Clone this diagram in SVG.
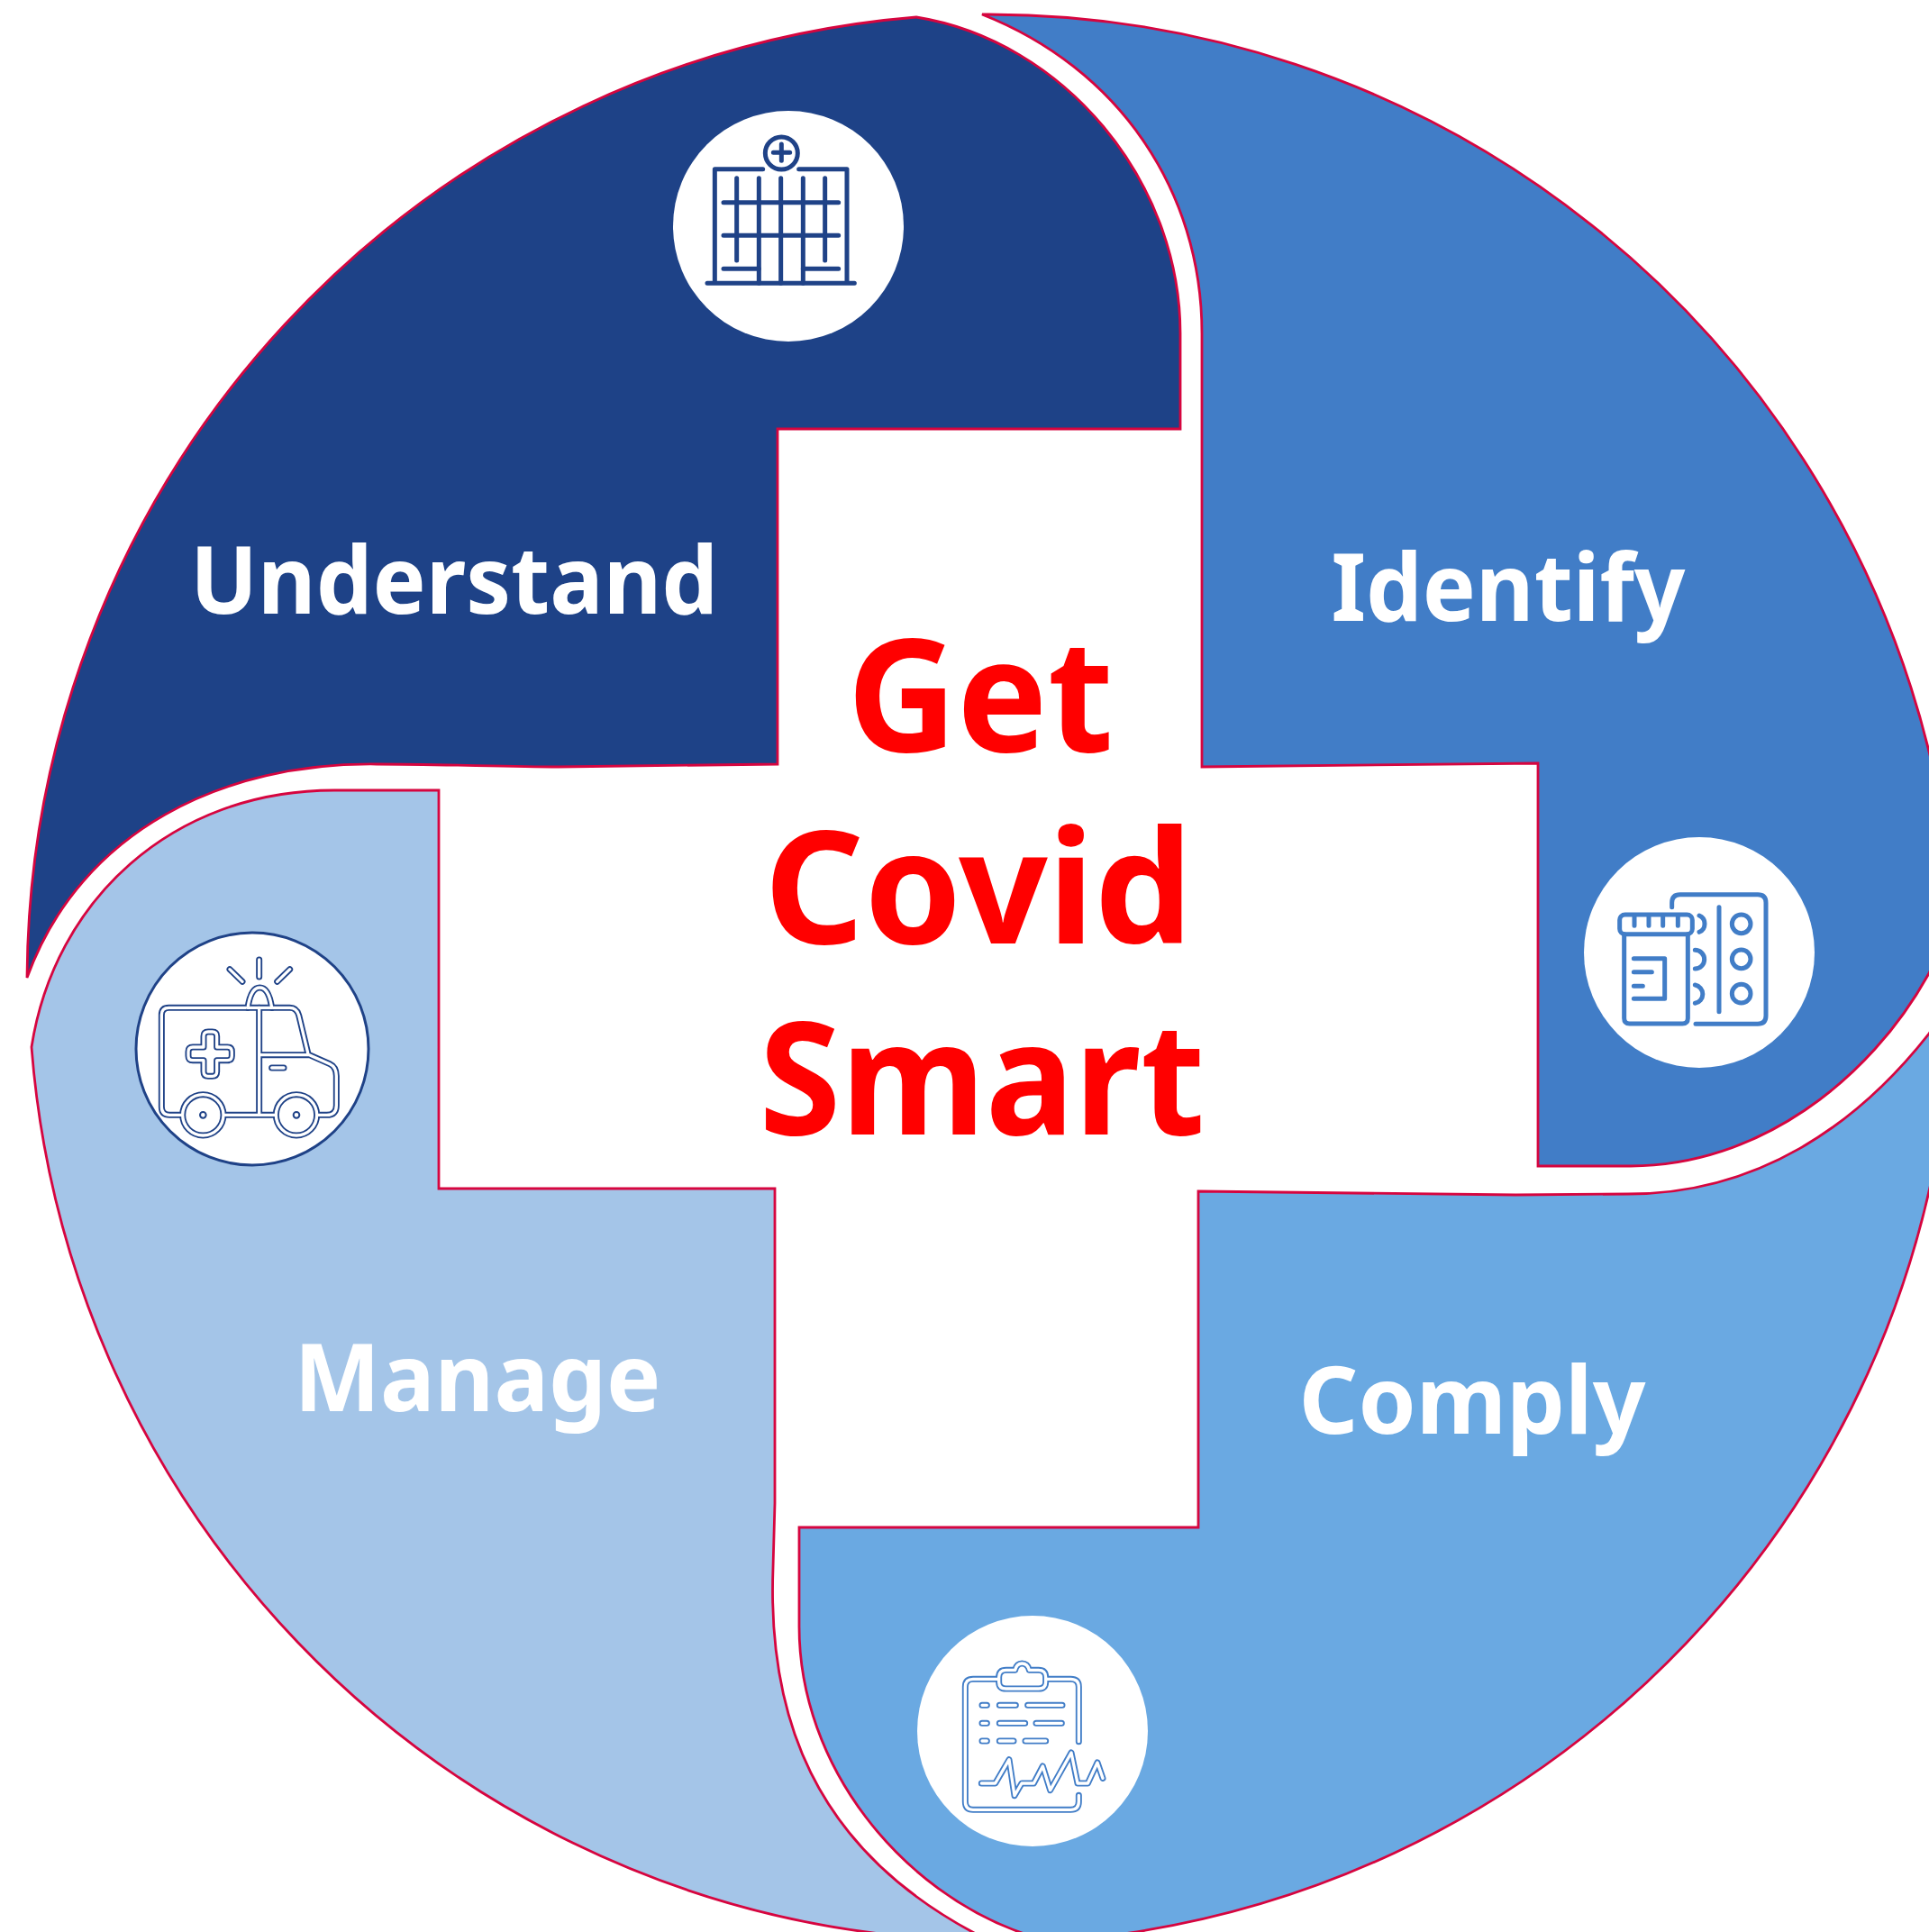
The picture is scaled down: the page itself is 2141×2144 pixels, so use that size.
<svg xmlns="http://www.w3.org/2000/svg" width="2141" height="2144" viewBox="0 0 2141 2144">
<style>
.seg{stroke:#d6053f;stroke-width:2.8;stroke-linejoin:miter}
.disc{fill:#fff}
.lbl{font-family:"Noto Sans","Open Sans",sans-serif;font-weight:700;fill:#fff;text-anchor:middle;font-size:104px}
.ttl{font-family:"Noto Sans","Open Sans",sans-serif;font-weight:700;fill:#f00;text-anchor:middle;font-size:174px}
.ico{fill:none;stroke-width:15;stroke-linecap:round;stroke-linejoin:round}
.dk{fill:none;stroke-width:21;stroke-linecap:round;stroke-linejoin:round}
.wh{fill:none;stroke:#fff;stroke-width:10;stroke-linecap:round;stroke-linejoin:round}
</style>
<defs>
<g id="amb">
<path d="M398,295H142Q118,295 118,319V625Q118,652 145,652H186M326,652H495M637,652H668Q700,652 700,620V522Q700,492 678,482L610,452H443M443,295V652M490,295H545Q568,295 575,320L605,445"/>
<path d="M405,295Q415,228 445,228Q475,228 485,295"/>
<path d="M405,295H485"/>
<circle cx="256" cy="652" r="68"/><circle cx="567" cy="652" r="68"/>
<path d="M443,135V192M345,167L387,208M545,167L503,208M485,495H525"/>
<path d="M258,390q0,-15 15,-15h14q15,0 15,15v36h35q15,0 15,15v14q0,15 -15,15h-35v38q0,15 -15,15h-14q-15,0 -15,-15v-38h-36q-15,0 -15,-15v-14q0,-15 15,-15h36z"/>
</g>
<g id="clip">
<path d="M290,220H210Q184,220 184,246V628Q184,655 210,655H535Q562,655 562,628V607M562,428V246Q562,220 535,220H455"/>
<path d="M320,190H350Q355,168 373,168Q392,168 397,190H428Q452,190 452,214V230Q452,252 428,252H320Q296,252 296,230V214Q296,190 320,190Z"/>
<path d="M240,307H256M298,307H352M392,307H507M240,367H256M298,367H383M420,367H505M240,426H256M298,426H345M384,426H452"/>
<path d="M238,567H284L330,488L348,608L372,567H412L442,510L467,590L537,465L558,567H592L624,498L642,550"/>
</g>
</defs>
<rect width="2141" height="2144" fill="#fff"/>
<g id="manage">
<path class="seg" fill="#a4c5e8" d="M35,1162C60,1000 190,877 371,877H487V1319H860V1668L858,1740C852,1900 900,2050 1085,2147L977,2146A1075,1075 0 0 1 35,1162Z"/>
<circle cx="280" cy="1164" r="129" fill="#fff" stroke="#1f4287" stroke-width="3"/>
<g transform="translate(140,1020) scale(.33333)">
<use href="#amb" class="dk" stroke="#1f4287"/>
<use href="#amb" class="wh"/>
<circle cx="256" cy="652" r="10" fill="#fff" stroke="#1f4287" stroke-width="6"/>
<circle cx="567" cy="652" r="10" fill="#fff" stroke="#1f4287" stroke-width="6"/>
</g>
<text class="lbl" x="530" y="1566" textLength="407" lengthAdjust="spacingAndGlyphs">Manage</text>
</g>
<g id="comply">
<path class="seg" fill="#6aa9e2" d="M1330,1322L1682,1326L1807,1325C1950,1325 2060,1250 2141,1147L2146,1140V1299A1075,1075 0 0 1 1240,2147H1140C1000,2100 887,1960 887,1805V1695H1330Z"/>
<circle class="disc" cx="1146" cy="1921" r="128"/>
<g transform="translate(1010,1790) scale(.33333)">
<use href="#clip" class="dk" stroke="#417dc7"/>
<use href="#clip" class="wh"/>
</g>
<text class="lbl" x="1634" y="1591" textLength="385" lengthAdjust="spacingAndGlyphs">Comply</text>
</g>
<g id="identify">
<path class="seg" fill="#417dc7" d="M1090,16C1240,75 1334,210 1334,370V851L1707,847V1294H1810C1950,1294 2075,1200 2141,1080L2146,1070V855A1075,1075 0 0 0 1090,16Z"/>
<circle class="disc" cx="1886" cy="1057" r="128"/>
<g transform="translate(1740,920) scale(.33333)" stroke="#417dc7" class="ico">
<rect x="173" y="285" width="242" height="65" rx="18"/>
<path d="M222,290V322M270,290V322M317,290V322M367,290V322"/>
<path d="M188,350V630q0,18 18,18H382q18,0 18,-18V350"/>
<path d="M220,431H323V565H220M220,476H280M220,523H250"/>
<path d="M347,260V245q0,-27 27,-27H633q27,0 27,27V622q0,27 -27,27H426"/>
<path d="M504,260V608"/>
<circle cx="578" cy="316" r="31"/><circle cx="578" cy="433" r="31"/><circle cx="578" cy="548" r="31"/>
<path d="M438,288A30,30 0 0 1 438,343M424,403A31,31 0 0 1 424,465M424,519A31,31 0 0 1 424,580"/>
</g>
<text class="lbl" x="1674" y="689" textLength="393" lengthAdjust="spacingAndGlyphs">Identify</text>
</g>
<g id="understand">
<path class="seg" fill="#1e4287" d="M30,1085A1075,1075 0 0 1 1017,19C1180,45 1310,200 1310,370V476H863V848L620,851C560,851 490,848 418,848C250,846 90,920 30,1085Z"/>
<circle class="disc" cx="875" cy="251" r="128"/>
<g transform="translate(720,100) scale(.33333)" stroke="#1f4287" class="ico">
<circle cx="442" cy="210" r="54"/>
<path d="M442,180V235M415,208H470"/>
<path d="M380,263H220V643M500,263H660V643M195,643H685"/>
<path d="M293,293V567M367,293V643M440,293V643M514,293V643M587,293V567"/>
<path d="M249,374H632M249,484H632M249,595H367M514,595H632"/>
</g>
<text class="lbl" x="504" y="681" textLength="586" lengthAdjust="spacingAndGlyphs">Understand</text>
</g>
<g id="center">
<text class="ttl" x="1088" y="834" textLength="296" lengthAdjust="spacingAndGlyphs">Get</text>
<text class="ttl" x="1086" y="1047" textLength="476" lengthAdjust="spacingAndGlyphs">Covid</text>
<text class="ttl" x="1090" y="1259" textLength="495" lengthAdjust="spacingAndGlyphs">Smart</text>
</g>
</svg>
